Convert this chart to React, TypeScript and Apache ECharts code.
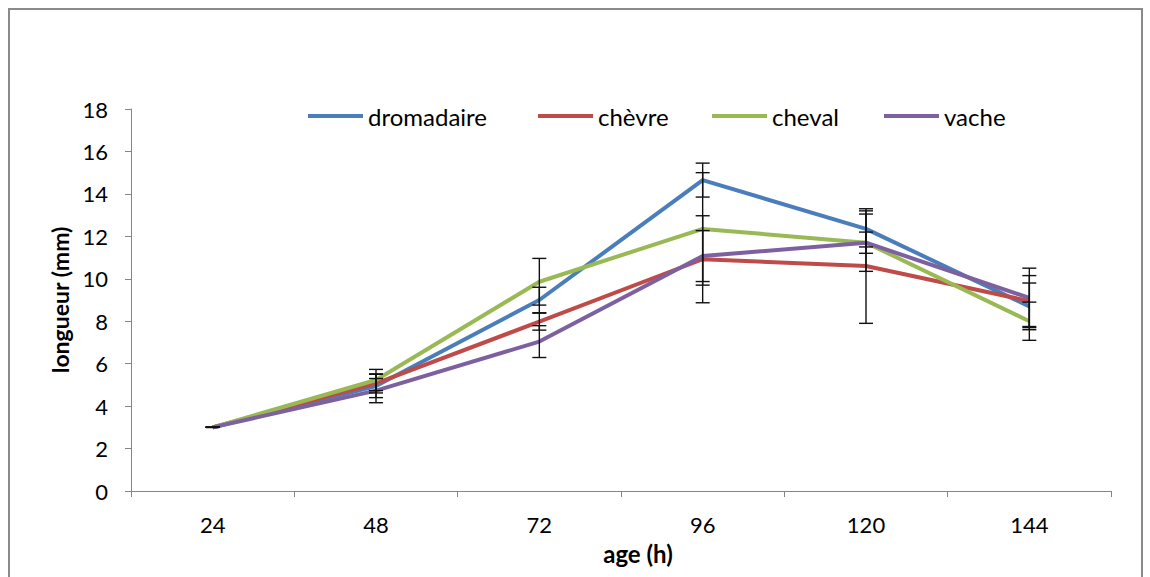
import React, { useEffect, useRef } from "react";
import * as echarts from "echarts";

const categories = ["24", "48", "72", "96", "120", "144"];
const seriesNames = ["dromadaire", "chèvre", "cheval", "vache"];
const dromadaire = [3.0, 4.95, 9.0, 14.65, 12.35, 8.7];
const chevre = [3.0, 5.07, 7.98, 10.92, 10.6, 8.95];
const cheval = [3.0, 5.23, 9.86, 12.35, 11.7, 8.0];
const vache = [3.0, 4.73, 7.04, 11.07, 11.7, 9.1];
const errDromadaire = [0, 0.55, 0.6, 0.8, 0.85, 1.1];
const errChevre = [0, 0.45, 0.4, 2.05, 2.7, 1.2];
const errCheval = [0, 0.5, 1.1, 2.65, 0.5, 0.9];
const errVache = [0, 0.57, 0.75, 1.2, 1.35, 1.4];
const colors = ["#4A7EBB", "#BE4B48", "#98B954", "#7D60A0"];

const FONT = "Lato, 'Open Sans', sans-serif";

export default function App() {
  const ref = useRef<HTMLDivElement>(null);
  useEffect(() => {
    document.body.style.margin = "0";
    const chart = echarts.init(ref.current!, null, { renderer: "svg" });
    const values = [dromadaire, chevre, cheval, vache];
    const errs = [errDromadaire, errChevre, errCheval, errVache];
    const lineSeries = values.map((v, i) => ({
      name: seriesNames[i],
      type: "line",
      data: v,
      symbol: "none",
      lineStyle: { width: 4, color: colors[i] },
      itemStyle: { color: colors[i] },
      z: 2,
    }));
    const errSeries = values.map((v, i) => ({
      type: "custom",
      z: 3,
      silent: true,
      data: v.map((y, k) => [k, y - errs[i][k], y + errs[i][k]]),
      renderItem: (params: any, api: any) => {
        const x = api.value(0);
        const lo = api.coord([x, api.value(1)]);
        const hi = api.coord([x, api.value(2)]);
        const cw = 7;
        const style = { stroke: "#111", lineWidth: 1.4 };
        return {
          type: "group",
          children: [
            { type: "line", shape: { x1: lo[0], y1: lo[1], x2: hi[0], y2: hi[1] }, style },
            { type: "line", shape: { x1: lo[0] - cw, y1: lo[1], x2: lo[0] + cw, y2: lo[1] }, style },
            { type: "line", shape: { x1: hi[0] - cw, y1: hi[1], x2: hi[0] + cw, y2: hi[1] }, style },
          ],
        };
      },
    }));
    const legendLefts = [308, 538, 712, 884];
    chart.setOption({
      animation: false,
      textStyle: { fontFamily: FONT },
      graphic: [
        {
          type: "rect",
          shape: { x: 9, y: 9, width: 1133, height: 620 },
          style: { fill: "none", stroke: "#8a8a8a", lineWidth: 2 },
        },
      ],
      legend: seriesNames.map((n, i) => ({
        data: [n],
        left: legendLefts[i],
        top: 104,
        padding: 0,
        icon: "rect",
        itemWidth: 55,
        itemHeight: 4,
        itemGap: 0,
        textStyle: { fontSize: 24, color: "#000", fontFamily: FONT },
      })),
      grid: { left: 131, right: 39, top: 109, bottom: 86 },
      xAxis: {
        type: "category",
        data: categories,
        boundaryGap: true,
        name: "age (h)",
        nameLocation: "middle",
        nameGap: 50,
        nameTextStyle: { fontSize: 24, fontWeight: "bold", color: "#000", fontFamily: FONT, padding: [0, 0, 0, 34] },
        axisLine: { lineStyle: { color: "#868686", width: 1 } },
        axisTick: { show: true, length: 6, inside: false, alignWithLabel: false, lineStyle: { color: "#868686" } },
        axisLabel: { fontSize: 22, color: "#000", margin: 22, fontFamily: FONT },
        splitLine: { show: false },
      },
      yAxis: {
        type: "value",
        min: 0,
        max: 18,
        interval: 2,
        name: "longueur (mm)",
        nameLocation: "middle",
        nameGap: 60,
        nameTextStyle: { fontSize: 23, fontWeight: "bold", color: "#000", fontFamily: FONT },
        axisLine: { show: true, lineStyle: { color: "#868686", width: 1 } },
        axisTick: { show: true, length: 6, lineStyle: { color: "#868686" } },
        axisLabel: { fontSize: 22, color: "#000", margin: 23, fontFamily: FONT },
        splitLine: { show: false },
      },
      series: [...lineSeries, ...errSeries],
    });
    return () => chart.dispose();
  }, []);
  return <div ref={ref} style={{ width: 1150, height: 577 }} />;
}
